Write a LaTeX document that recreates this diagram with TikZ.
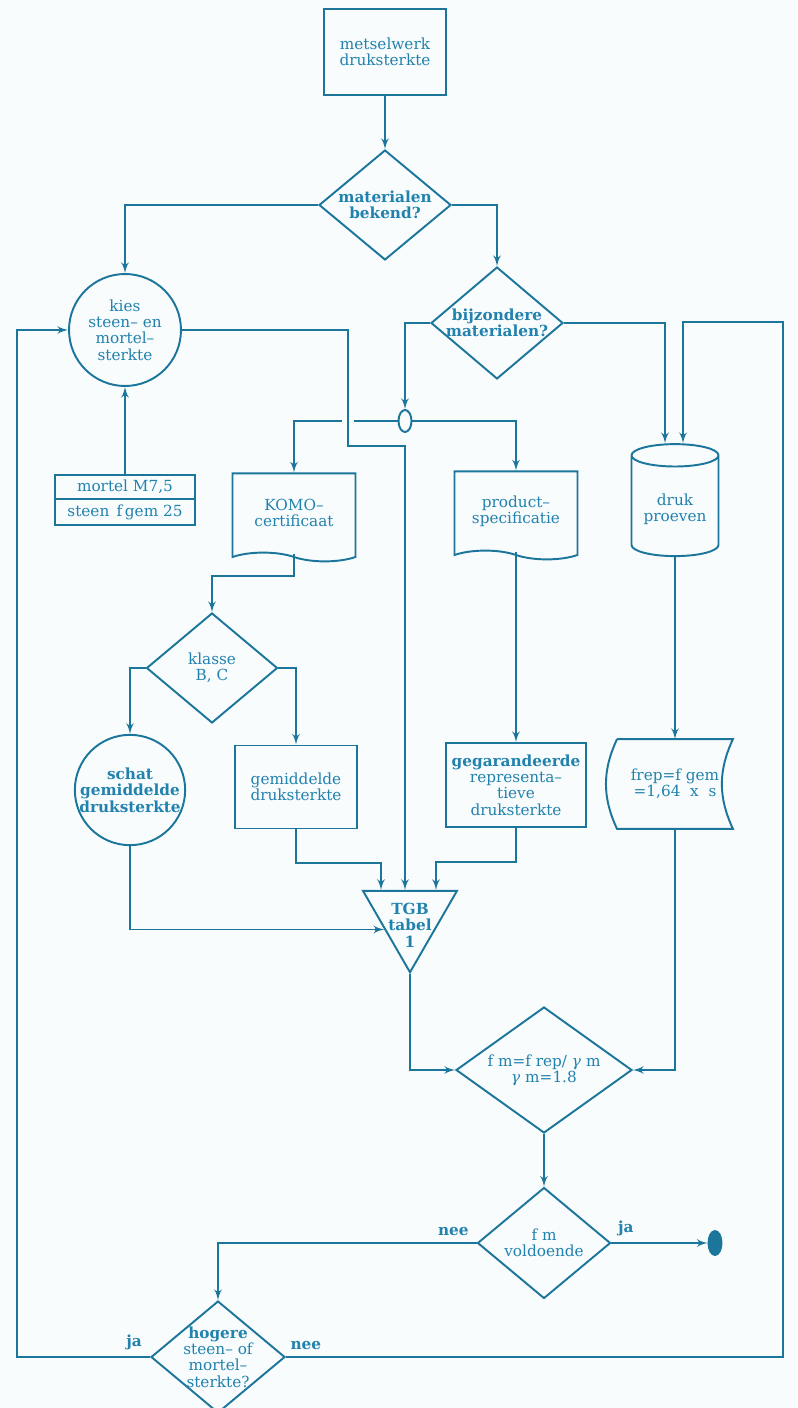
\documentclass[tikz,border=0pt]{standalone}
\usepackage{fontspec}
\setmainfont{DejaVu Serif}
\usetikzlibrary{shapes,arrows}
\usetikzlibrary{shapes.geometric,shapes.symbols,shapes.multipart}
\usetikzlibrary{calc}
\usetikzlibrary{positioning}
\definecolor{lijn}{RGB}{28,118,155}
\definecolor{inkt}{RGB}{34,130,174}
\definecolor{papier}{RGB}{248,252,253}
\tikzstyle{txt} = [text=inkt, font=\fontsize{8.7}{9.3}\selectfont]
\tikzstyle{vet} = [text=inkt, align=center, font=\fontsize{8.7}{9.3}\selectfont\bfseries]
\tikzstyle{block} = [draw, rectangle, align=center,
    minimum height=1.72cm, minimum width=2.44cm]
\tikzstyle{decision} = [draw, diamond, inner sep=0pt,
    minimum width=2.64cm, minimum height=2.2cm]
\tikzstyle{kring} = [draw, circle, align=center, inner sep=0pt]
\tikzstyle{doc} = [draw, tape, tape bend top=none, tape bend bottom=out and in,
    align=center, minimum width=2.46cm, minimum height=1.76cm]
\tikzstyle{vat} = [draw, cylinder, shape border rotate=90, aspect=0.3, align=center,
    minimum width=1.74cm, minimum height=2.24cm]

\begin{document}
\begin{tikzpicture}[x=0.02cm, y=-0.02cm, >=latex', line width=1.1pt, color=lijn,
    every node/.style={txt}, every label/.style={align=center}]
    \useasboundingbox (0,0) rectangle (797,1408);
    \fill[papier] (0,0) rectangle (797,1408);

    % blocks, top to bottom
    \node [block] (metsel) at (385,52) {metselwerk\\druksterkte};
    \node [decision, label={[vet]center:{materialen\\bekend?}}] (bekend) at (385,205) {};
    \node [kring, minimum size=2.24cm] (kies) at (125,330) {kies\\steen-- en\\mortel--\\sterkte};
    \node [decision, minimum height=2.24cm, label={[vet]center:{bijzondere\\materialen?}}] (bijz) at (497,323) {};
    \node [draw, ellipse, inner sep=0pt, minimum width=0.26cm, minimum height=0.44cm] (knoop) at (405,421) {};
    \node [draw, rectangle split, rectangle split parts=2, minimum width=2.8cm, inner ysep=2.5pt] (mortel) at (125,500)
        {mortel M7,5\nodepart{second}steen \,f\,gem 25};
    \node [doc] (komo) at (294,513) {KOMO--\\certificaat};
    \node [doc] (prod) at (516,511) {product--\\specificatie};
    \node [vat] (druk) at (675,509) {druk\\proeven};
    \node [decision, minimum width=2.62cm, label={[txt]center:{klasse\\B, C}}] (klasse) at (212,668) {};
    \node [kring, vet, minimum size=2.2cm] (schat) at (130,790) {schat\\gemiddelde\\druksterkte};
    \node [block, minimum height=1.66cm] (gem) at (296,787) {gemiddelde\\druksterkte};
    \node [block, minimum width=2.46cm, minimum height=1.68cm] (garant) at (516,785)
        {\textbf{gegarandeerde}\\representa--\\tieve\\druksterkte};
    \node [align=center, minimum width=2.28cm, minimum height=1.76cm] (frep) at (675,784) {frep=f gem\\=1,64\ \ x\ \ s};
    \draw (frep.north west) -- (frep.north east) to[bend right=25] (frep.south east)
        -- (frep.south west) to[bend left=25] (frep.north west);
    \node [draw, regular polygon, regular polygon sides=3, shape border rotate=180, inner sep=0pt,
        minimum size=2.17cm, label={[vet, yshift=-0.14cm]center:{TGB\\tabel\\1}}] (tgb) at (410,918) {};
    \node [decision, minimum width=3.52cm, minimum height=2.52cm,
        label={[txt]center:{f m=f rep/ \textit{γ} m\\\textit{γ} m=1.8}}] (fm) at (544,1070) {};
    \node [decision, minimum width=2.66cm, minimum height=2.22cm, label={[txt]center:{f m\\voldoende}}] (vold) at (544,1243) {};
    \node [draw, ellipse, fill=lijn, inner sep=0pt, minimum width=0.26cm, minimum height=0.48cm] (eind) at (715,1243) {};
    \node [decision, minimum width=2.68cm, minimum height=2.24cm,
        label={[txt]center:{\textbf{hogere}\\steen-- of\\mortel--\\sterkte?}}] (hoger) at (218,1357) {};

    \coordinate (kiesbocht) at (348,446);
    \coordinate (rechts) at (783,322);
    \coordinate (links) at (17,330);

    % connectors
    \draw [->] (metsel) -- (bekend);
    \draw [->] (bekend.west) -| (kies.north);
    \draw [->] (bekend.east) -| (bijz.north);
    \draw [->] (bijz.west) -| (knoop.north);
    \draw [->] (bijz.east) -| ([xshift=-0.2cm]druk.north);
    \draw [->] (hoger.east) -| node [vet, pos=0.02, above] {nee} (rechts) -| ([xshift=0.16cm]druk.north);
    \draw (knoop.west) -- ([xshift=0.12cm]kiesbocht |- knoop.west);
    \draw [->] ([xshift=-0.12cm]kiesbocht |- knoop.west) -| (komo.north);
    \draw [->] (knoop.east) -| (prod.north);
    \draw [->] (kies.east) -| (kiesbocht) -| ([xshift=-0.1cm]tgb.north);
    \draw [->] (mortel.north) -- (kies.south);
    \draw [->] (komo.south) -- ++(0,22) -| (klasse.north);
    \draw [->] (klasse.west) -| (schat.north);
    \draw [->] (klasse.east) -| (gem.north);
    \draw [->] (prod.south) -- (garant.north);
    \draw [->] (druk.south) -- (frep.north);
    \draw [->] (schat.south) |- (tgb.204);
    \draw [->] (gem.south) -- ++(0,34) -| ([xshift=-0.58cm]tgb.north);
    \draw [->] (garant.south) -- ++(0,34) -| ([xshift=0.52cm]tgb.north);
    \draw [->] (tgb.south) |- (fm.west);
    \draw [->] (frep.south) |- (fm.east);
    \draw [->] (fm.south) -- (vold.north);
    \draw [->] (vold.east) -- node [vet, pos=0.15, above] {ja} (eind.west);
    \draw [->] (vold.west) -| node [vet, pos=0.045, above] {nee} (hoger.north);
    \draw [->] (hoger.west) -| node [vet, pos=0.06, above] {ja} (links) -- (kies.west);
\end{tikzpicture}
\end{document}
